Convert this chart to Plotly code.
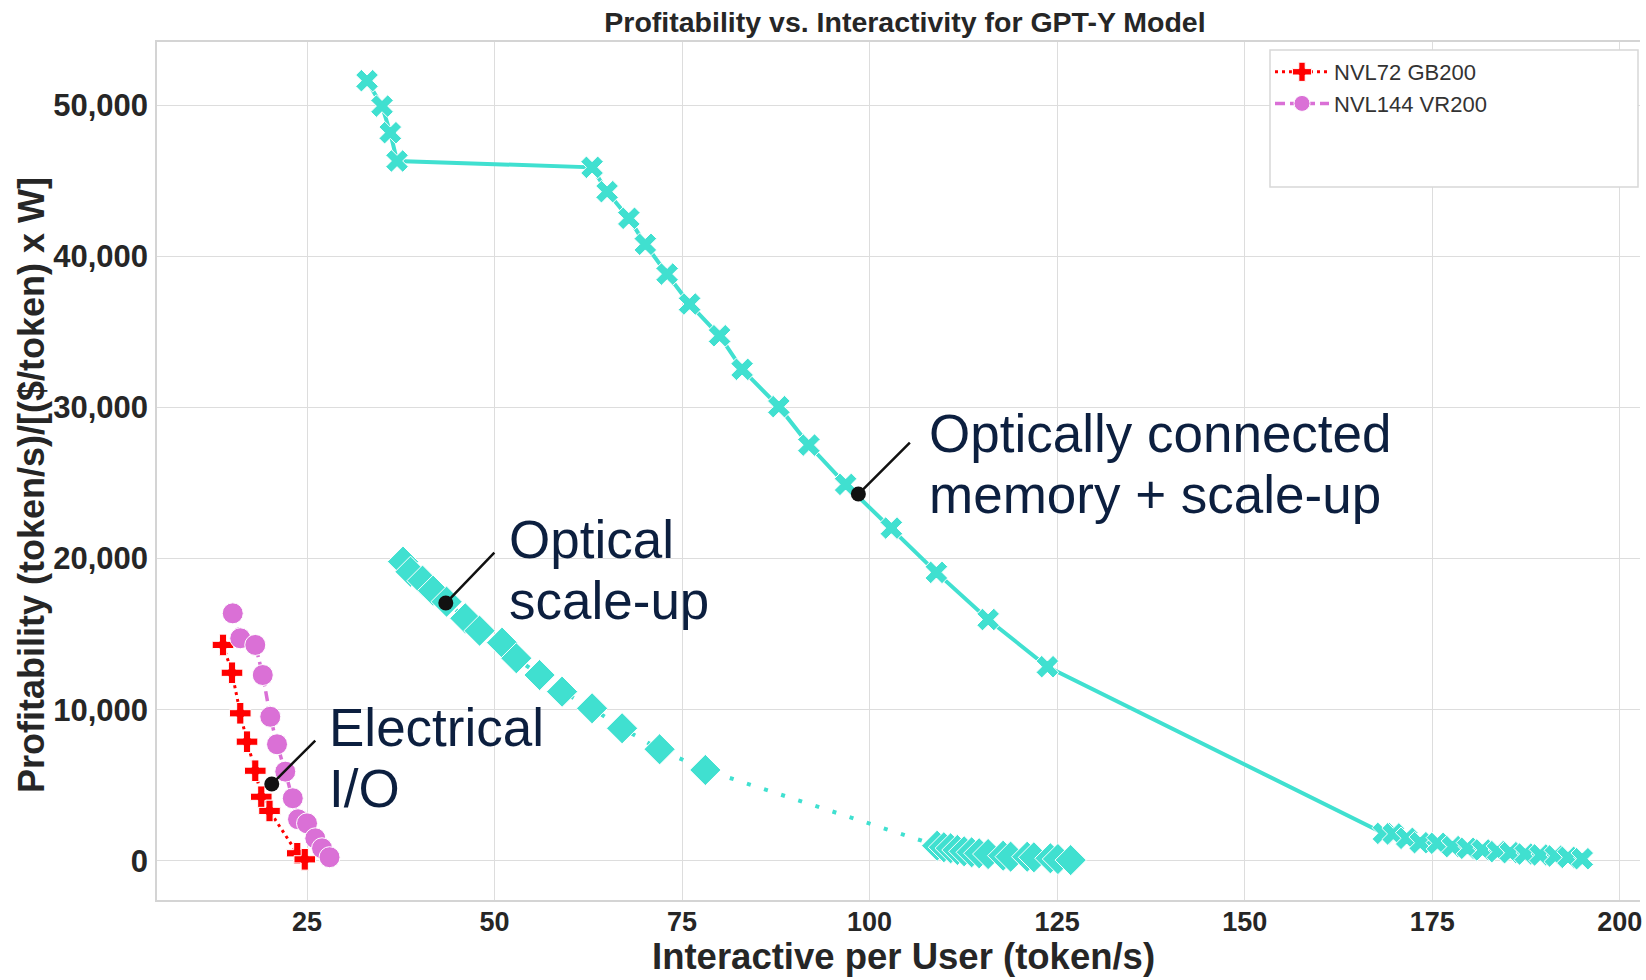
"""Profitability vs. interactivity scatter, seaborn whitegrid look in Plotly"""
import plotly.graph_objects as go

# NVL72 GB200 (electrical I/O)
gb200_x = [13.8, 15.0, 16.1, 17.0, 18.1, 18.9, 20.0, 23.7, 24.7]
gb200_y = [14290, 12450, 9770, 7890, 5970, 4250, 3310, 510, 110]

# NVL144 VR200
vr200_x = [15.1, 16.1, 18.1, 19.1, 20.1, 21.0, 22.1, 23.1, 23.8, 25.0, 26.1, 27.0, 28.0]
vr200_y = [16380, 14730, 14290, 12300, 9540, 7720, 5910, 4150, 2760, 2490, 1500, 840, 250]

# optical scale-up
scaleup_x = [37.8, 38.8, 40.4, 41.8, 43.6, 46.1, 48.0, 51.0, 52.9, 56.0, 59.0, 63.0,
             67.0, 72.0, 78.1, 109.0, 109.9, 110.8, 111.7, 112.6, 113.6, 114.6,
             115.8, 117.8, 118.8, 121.0, 121.9, 124.1, 125.1, 126.8]
scaleup_y = [19800, 19130, 18540, 17880, 17150, 16050, 15230, 14440, 13410, 12300,
             11200, 10100, 8780, 7390, 6020, 1010, 910, 840, 730, 640, 575, 510,
             460, 350, 285, 280, 245, 180, 130, 60]

# optically connected memory + scale-up
memory_x = [33.0, 35.0, 36.1, 37.0, 63.0, 65.0, 67.9, 70.1, 73.0, 76.0, 80.0, 83.0,
            87.9, 91.9, 96.8, 102.9, 108.9, 115.8, 123.7, 168.5, 169.8, 171.6,
            173.4, 175.7, 177.7, 179.7, 181.7, 183.7, 185.4, 187.4, 189.4, 191.4,
            193.1, 195.0]
memory_y = [51610, 49930, 48170, 46300, 45880, 44270, 42510, 40790, 38820, 36840,
            34740, 32520, 30050, 27510, 24910, 22020, 19090, 15970, 12850, 1830,
            1790, 1500, 1210, 1170, 950, 840, 730, 615, 550, 460, 400, 330, 240, 150]

# callouts: label lines and the data point each one points at
callout_lines = [["Optically connected", "memory + scale-up"], ["Optical", "scale-up"],
                 ["Electrical", "I/O"]]
callout_dot_x = [98.5, 43.5, 20.3]
callout_dot_y = [24270, 17060, 5090]

TURQUOISE = "#40E0D0"
ORCHID = "#DA70D6"
FONT = "Liberation Sans, Arial, sans-serif"
NAVY = "#0c1f3f"
DARK = "#262626"

fig = go.Figure()
fig.add_trace(go.Scatter(
    x=gb200_x, y=gb200_y, name="NVL72 GB200", mode="lines+markers",
    line=dict(color="red", width=3, dash="3px,4px"),
    marker=dict(symbol="cross", size=18, color="red", line=dict(color="white", width=1)),
))
fig.add_trace(go.Scatter(
    x=vr200_x, y=vr200_y, name="NVL144 VR200", mode="lines+markers",
    line=dict(color=ORCHID, width=3.5, dash="10px,5px"),
    marker=dict(symbol="circle", size=21, color=ORCHID, line=dict(color="white", width=1)),
))
fig.add_trace(go.Scatter(
    x=scaleup_x, y=scaleup_y, name="Optical scale-up", mode="lines+markers",
    showlegend=False,
    line=dict(color=TURQUOISE, width=4, dash="4px,14px"),
    marker=dict(symbol="diamond", size=24, color=TURQUOISE, line=dict(color="white", width=1)),
))
fig.add_trace(go.Scatter(
    x=memory_x, y=memory_y, name="Optically connected memory", mode="lines+markers",
    showlegend=False,
    line=dict(color=TURQUOISE, width=4),
    marker=dict(symbol="x", size=20, color=TURQUOISE, line=dict(color="white", width=1)),
))

# pixel offsets of the leader line tail, and of the text, per callout
tail_dx = [53, 50, 45]
tail_dy = [-53, -52, -45]
text_dx = [69, 61, 55]
text_dy = [-61, -64, -57]
line_gap = 61

annotations = []
for lines, dx, dy, tdx, tdy, cx, cy in zip(callout_lines, tail_dx, tail_dy, text_dx,
                                            text_dy, callout_dot_x, callout_dot_y):
    annotations.append(dict(
        x=cx, y=cy, text="", showarrow=True, ax=dx, ay=dy,
        arrowhead=6, arrowsize=1.5, arrowwidth=2.5, arrowcolor="#111111",
    ))
    for i, line in enumerate(lines):
        annotations.append(dict(
            x=cx, y=cy, text=line, showarrow=False, xanchor="left", yanchor="middle",
            xshift=tdx, yshift=-(tdy + i * line_gap),
            font=dict(family=FONT, size=53, color=NAVY),
        ))

# axis titles placed by hand, the y one sits close to the tick label column
annotations.append(dict(
    text="Profitability (token/s)/[($/token) x W]", textangle=-90,
    xref="paper", yref="paper", x=(31 - 157) / 1483, y=(900 - 485) / 858,
    xanchor="center", yanchor="middle", showarrow=False,
    font=dict(family=FONT, size=36, color=DARK, weight="bold"),
))
annotations.append(dict(
    text="Interactive per User (token/s)",
    xref="paper", yref="paper", x=(903 - 157) / 1483, y=(900 - 956) / 858,
    xanchor="center", yanchor="middle", showarrow=False,
    font=dict(family=FONT, size=36.5, color=DARK, weight="bold"),
))

fig.update_layout(
    width=1646, height=980,
    paper_bgcolor="white", plot_bgcolor="white",
    margin=dict(l=157, r=6, t=42, b=80, autoexpand=False),
    title=dict(
        text="Profitability vs. Interactivity for GPT-Y Model",
        x=905 / 1646, xref="container", xanchor="center",
        y=1 - 22 / 980, yref="container", yanchor="middle",
        font=dict(family=FONT, size=28.5, color=DARK, weight="bold"),
    ),
    xaxis=dict(
        range=[5.0, 202.7], tickvals=[25, 50, 75, 100, 125, 150, 175, 200],
        showgrid=True, gridcolor="#dddddd", gridwidth=1, zeroline=False,
        showline=True, linecolor="#d4d4d4", linewidth=1.5, mirror=True,
        tickfont=dict(family=FONT, size=27, color=DARK, weight="bold"),
        ticklabelstandoff=-3, automargin=False,
    ),
    yaxis=dict(
        range=[-2580, 54170], tickvals=[0, 10000, 20000, 30000, 40000, 50000],
        tickformat=",d",
        showgrid=True, gridcolor="#dddddd", gridwidth=1, zeroline=False,
        showline=True, linecolor="#d4d4d4", linewidth=1.5,
        tickfont=dict(family=FONT, size=31, color=DARK, weight="bold"),
        ticklabelstandoff=1, automargin=False,
    ),
    legend=dict(
        x=(1270 - 157) / 1483, y=(900 - 51) / 858, xanchor="left", yanchor="top",
        bgcolor="rgba(0,0,0,0)", borderwidth=0, itemwidth=54,
        font=dict(family=FONT, size=22, color="#333333"),
    ),
    shapes=[dict(
        type="rect", xref="paper", yref="paper", layer="above",
        x0=(1270 - 157) / 1483, x1=(1638 - 157) / 1483,
        y0=(900 - 187) / 858, y1=(900 - 50) / 858,
        line=dict(color="#d8d8d8", width=1.5), fillcolor="white",
    )],
    annotations=annotations,
)

# the page body has an 8px default margin, drop it so the figure sits at 0,0
fig.write_html(
    "out.html",
    config={"displayModeBar": False},
    post_script="document.body.style.margin = '0';",
)
